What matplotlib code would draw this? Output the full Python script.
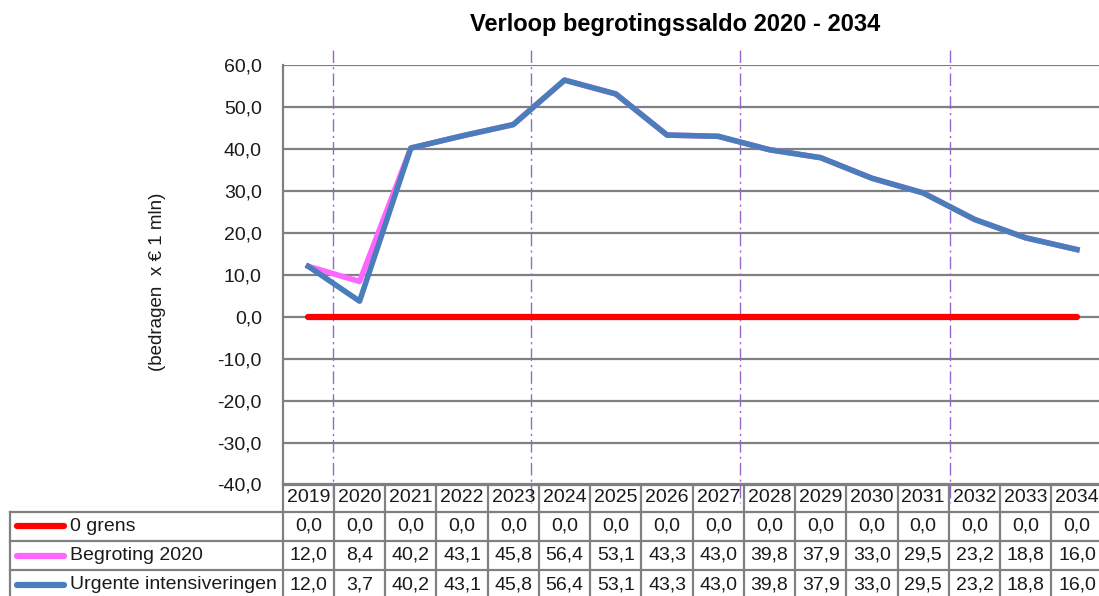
import matplotlib.pyplot as plt
from matplotlib.transforms import blended_transform_factory

# data
jaren = ['2019', '2020', '2021', '2022', '2023', '2024', '2025', '2026',
         '2027', '2028', '2029', '2030', '2031', '2032', '2033', '2034']
nul_grens = [0.0] * 16
begroting_2020 = [12.0, 8.4, 40.2, 43.1, 45.8, 56.4, 53.1, 43.3,
                  43.0, 39.8, 37.9, 33.0, 29.5, 23.2, 18.8, 16.0]
urgente = [12.0, 3.7, 40.2, 43.1, 45.8, 56.4, 53.1, 43.3,
           43.0, 39.8, 37.9, 33.0, 29.5, 23.2, 18.8, 16.0]
series_namen = ['0 grens', 'Begroting 2020', 'Urgente intensiveringen']
kleuren = ['#ff0000', '#ff66ff', '#4a7ebb']
scheidingen = [0.49, 4.35, 8.43, 12.52]  # streep-stip lijnen

W, H = 1099, 596
plt.rcParams['font.family'] = 'Liberation Sans'
tekst = '#1a1a1a'
fig = plt.figure(figsize=(W / 100, H / 100), dpi=100)

def fx(px):
    return px / W

def fy(py):
    return 1 - py / H

ax_l, ax_r, ax_t, ax_b = 282.7, 1102.6, 65, 484.5
ax = fig.add_axes([fx(ax_l), fy(ax_b), fx(ax_r - ax_l), fy(ax_t) - fy(ax_b)])

x = list(range(len(jaren)))
ax.plot(x, nul_grens, color=kleuren[0], lw=4.5, solid_capstyle='round', zorder=3)
ax.plot(x, begroting_2020, color=kleuren[1], lw=4, solid_joinstyle='round', zorder=4)
ax.plot(x, urgente, color=kleuren[2], lw=4, solid_joinstyle='round', zorder=5)

ax.set_xlim(-0.5, len(jaren) - 0.5)
ax.set_ylim(-40, 60)
ax.set_yticks(range(-40, 61, 10))
ax.set_yticklabels([f'{v:.1f}'.replace('.', ',') for v in range(-40, 61, 10)],
                   fontsize=14, color=tekst)
ax.set_xticks([])
ax.tick_params(axis='y', length=0, pad=15)
ax.grid(axis='y', color='#808080', lw=1.6)
for s in ['top', 'right', 'bottom']:
    ax.spines[s].set_visible(False)
ax.spines['left'].set_color('#808080')
ax.spines['left'].set_linewidth(1.6)
ax.set_axisbelow(True)

# streep-stip lijnen (ook boven en onder het plotgebied)
for s in scheidingen:
    ax.plot([s, s], [1.035, -0.045], color='#9966cc', lw=1, ls=(0, (9, 3, 1.5, 3)),
            transform=blended_transform_factory(ax.transData, ax.transAxes),
            clip_on=False, zorder=2)

fig.text(fx(675), fy(25), 'Verloop begrotingssaldo 2020 - 2034',
         ha='center', va='center', fontsize=17, fontweight='bold', color='black')
fig.text(fx(157), fy(282), '(bedragen  x € 1 mln)', rotation=90,
         ha='center', va='center', fontsize=13.5, color=tekst)

# datatabel
tr = blended_transform_factory(ax.transData, fig.transFigure)
rand = dict(color='#808080', lw=1.6, clip_on=False)
rijen = [484.5, 511.5, 541, 570, 599]
lab_l = 10
# horizontale lijnen
fig.add_artist(plt.Line2D([fx(ax_l), fx(W + 5)], [fy(rijen[0])] * 2, **rand))
for r in rijen[1:]:
    fig.add_artist(plt.Line2D([fx(lab_l), fx(W + 5)], [fy(r)] * 2, **rand))
# verticale lijnen
fig.add_artist(plt.Line2D([fx(lab_l)] * 2, [fy(rijen[1]), fy(rijen[-1])], **rand))
for i in range(len(jaren) + 1):
    fig.add_artist(plt.Line2D([i - 0.5] * 2, [fy(rijen[0]), fy(rijen[-1])],
                              transform=tr, **rand))
# jaren
for i, j in enumerate(jaren):
    fig.text(i, fy((rijen[0] + rijen[1]) / 2), j, transform=tr,
             ha='center', va='center', fontsize=14, color=tekst)
# rijen met waarden
for k, (naam, waarden) in enumerate(zip(series_namen, [nul_grens, begroting_2020, urgente])):
    yc = fy((rijen[k + 1] + rijen[k + 2]) / 2)
    fig.add_artist(plt.Line2D([fx(17), fx(64)], [yc, yc], color=kleuren[k], lw=4.5,
                              solid_capstyle='round'))
    fig.text(fx(70), yc, naam, ha='left', va='center', fontsize=14, color=tekst)
    for i, v in enumerate(waarden):
        fig.text(i, yc, f'{v:.1f}'.replace('.', ','), transform=tr,
                 ha='center', va='center', fontsize=14, color=tekst)

fig.savefig('out.png', dpi=100)
